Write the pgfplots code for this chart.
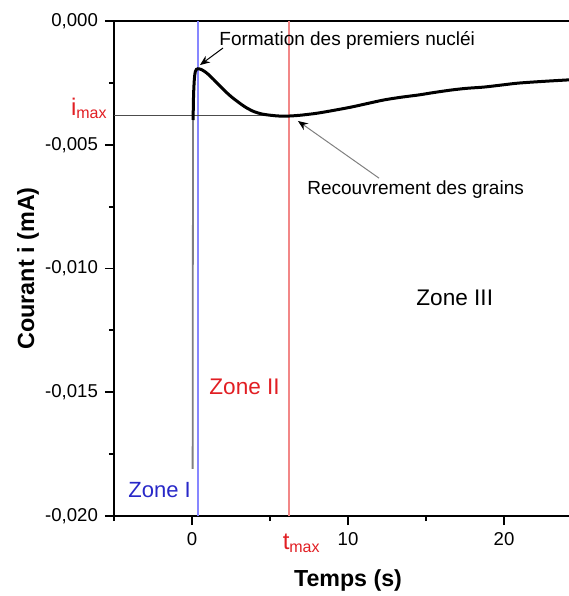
\documentclass[border=0pt]{standalone}
\usepackage{fontspec}
\setmainfont{Liberation Sans}
\usepackage{pgfplots}
\pgfplotsset{compat=1.18}
\usetikzlibrary{arrows.meta}
\definecolor{zoneblue}{RGB}{40,40,200}
\definecolor{zonered}{RGB}{225,30,35}
\definecolor{lineblue}{RGB}{135,135,255}
\definecolor{linered}{RGB}{242,135,135}
\begin{document}
\begin{tikzpicture}
\begin{axis}[
  at={(0,0)}, anchor=south west,
  scale only axis,
  width=230.9pt, height=247.5pt,
  xmin=-5, xmax=24.6,
  ymin=-0.020, ymax=0,
  clip=false,
  axis line style={line width=0.9pt},
  tick align=outside,
  xtick pos=bottom, ytick pos=left,
  xtick={0,10,20},
  xticklabels={0,10,20},
  minor xtick={-5,5,15},
  ytick={-0.020,-0.015,-0.010,-0.005,0},
  yticklabels={{-0,020},{-0,015},{-0,010},{-0,005},{0,000}},
  minor ytick={-0.0175,-0.0125,-0.0075,-0.0025},
  scaled y ticks=false,
  major tick length=4.5pt,
  minor tick length=2.5pt,
  every tick/.style={line width=0.9pt, black},
  tick label style={font=\fontsize{9.3}{10}\selectfont},
]
% vertical zone lines
\addplot[color=lineblue, line width=0.9pt, mark=none] coordinates {(0.36,-0.020) (0.36,0)};
\addplot[color=linered, line width=0.9pt, mark=none] coordinates {(6.24,-0.020) (6.24,0)};
% i_max line
\addplot[color=black!70, line width=0.5pt] coordinates {(-5,-0.0038) (6.24,-0.0038)};
% steep initial part (gray)
\addplot[color=gray, line width=0.9pt] coordinates {
(0.04,-0.0181) (0.05,-0.012) (0.06,-0.007) (0.07,-0.0040)};
% main curve
\addplot[color=black, line width=1.5pt, smooth] coordinates {
(0.07,-0.0040) (0.10,-0.0030) (0.15,-0.00235) (0.21,-0.00205) (0.29,-0.00195)
(0.38,-0.00193) (0.6,-0.00196) (0.9,-0.00208) (1.22,-0.00226) (1.6,-0.00250)
(2.05,-0.00279) (2.5,-0.00305) (2.95,-0.00327) (3.45,-0.00349) (3.97,-0.00366)
(4.5,-0.00376) (5.06,-0.00381) (5.6,-0.00384) (6.2,-0.00384) (6.9,-0.00381)
(7.6,-0.00376) (8.08,-0.00372) (9.0,-0.00362) (10.19,-0.00348) (11.2,-0.00334)
(12.3,-0.00319) (13.4,-0.00308) (14.5,-0.00299) (15.5,-0.00289) (16.6,-0.00279)
(17.6,-0.00272) (18.7,-0.00267) (19.8,-0.00259) (20.9,-0.00251) (22.5,-0.00244)
(24.1,-0.00238) (24.6,-0.00236)};
% annotations
\node[anchor=west, inner sep=0pt, font=\fontsize{9.5}{11}\selectfont] at (axis cs:1.73,-0.00077) {Formation des premiers nucléi};
\draw[black, line width=0.5pt, -{Stealth[length=5pt,width=4pt]}] (axis cs:1.99,-0.00109) -- (axis cs:0.51,-0.00178);
\node[anchor=west, inner sep=0pt, font=\fontsize{9.5}{11}\selectfont] at (axis cs:7.37,-0.00683) {Recouvrement des grains};
\draw[gray, line width=0.5pt, -{Stealth[length=5pt,width=4pt,black]}] (axis cs:11.99,-0.00635) -- (axis cs:6.79,-0.00404);
\node[anchor=west, inner sep=0pt, zoneblue, font=\fontsize{11}{13}\selectfont] at (axis cs:-4.1,-0.01896) {Zone I};
\node[anchor=west, inner sep=0pt, zonered, font=\fontsize{11.3}{13}\selectfont] at (axis cs:1.09,-0.01479) {Zone II};
\node[anchor=west, inner sep=0pt, font=\fontsize{11.3}{13}\selectfont] at (axis cs:14.36,-0.0112) {Zone III};
% i_max and t_max labels
\node[anchor=base east, inner sep=0pt, zonered, font=\fontsize{12}{14}\selectfont] at ([xshift=-3pt]axis cs:-5,-0.0038) {i\textsubscript{max}};
\node[anchor=base west, inner sep=0pt, zonered, font=\fontsize{12}{14}\selectfont] at ([xshift=-3.5pt,yshift=-16.5pt]axis cs:6.24,-0.020) {t\textsubscript{max}};
% axis labels
\node[rotate=90, inner sep=0pt, font=\bfseries\fontsize{11.7}{14}\selectfont] at ([xshift=-43pt]rel axis cs:0,0.5) {Courant i (mA)};
\node[inner sep=0pt, font=\bfseries\fontsize{11.6}{14}\selectfont] at ([yshift=-32pt]axis cs:10,-0.020) {Temps (s)};
\end{axis}
\pgfresetboundingbox
\path[use as bounding box] (-57pt,-40pt) rectangle (227.5pt,258pt);
\end{tikzpicture}
\end{document}
